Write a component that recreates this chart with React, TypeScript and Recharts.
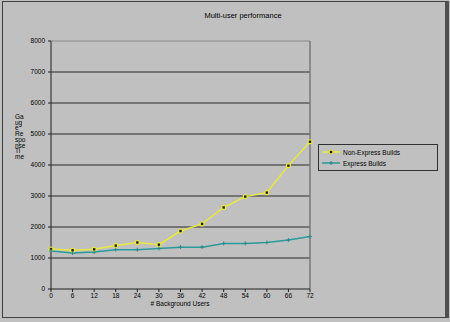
import React from 'react';
import { LineChart, Line, XAxis, YAxis, CartesianGrid, ReferenceLine } from 'recharts';

const users = [0, 6, 12, 18, 24, 30, 36, 42, 48, 54, 60, 66, 72];
const nonExpress = [1290, 1250, 1280, 1400, 1500, 1430, 1870, 2100, 2630, 2980, 3110, 3980, 4750];
const express = [1225, 1160, 1190, 1270, 1270, 1310, 1350, 1350, 1470, 1470, 1500, 1580, 1690];
const yTicks = [0, 1000, 2000, 3000, 4000, 5000, 6000, 7000, 8000];
const gridValues = [1000, 2000, 3000, 4000, 5000, 6000, 7000];
const yLabelLines = ['Ga', 'ug', 'e', 'Re', 'spo', 'nse', 'Ti', 'me'];

const data = users.map((u, i) => ({ users: u, nonExpress: nonExpress[i], express: express[i] }));

const FONT = '"Liberation Sans", Arial, sans-serif';

const YellowDot = (props: any) => {
  const { cx, cy } = props;
  if (cx == null || cy == null) return null;
  return (
    <g>
      <circle cx={cx} cy={cy} r={2.6} fill="#e8e840" />
      <rect x={cx - 1.2} y={cy - 1.2} width={2.4} height={2.4} fill="#202020" />
    </g>
  );
};

const TealDot = (props: any) => {
  const { cx, cy } = props;
  if (cx == null || cy == null) return null;
  return (
    <g stroke="#2a8a8a" strokeWidth={1}>
      <line x1={cx - 2} y1={cy} x2={cx + 2} y2={cy} />
      <line x1={cx} y1={cy - 2} x2={cx} y2={cy + 2} />
    </g>
  );
};

export default function App() {
  return (
    <div
      style={{
        position: 'absolute',
        left: 0,
        top: 0,
        width: 450,
        height: 322,
        background: '#c0c0c0',
        fontFamily: FONT,
        overflow: 'hidden',
      }}
    >
      <div
        style={{
          position: 'absolute',
          left: 2,
          top: 1,
          width: 442,
          height: 315,
          border: '1px solid #404040',
          borderRight: '4px solid #505050',
          boxSizing: 'content-box',
        }}
      />
      <LineChart
        width={450}
        height={322}
        data={data}
        margin={{ top: 41, right: 140, left: 0, bottom: 15 }}
        style={{ position: 'absolute', left: 0, top: 0 }}
      >
        <CartesianGrid
          horizontal
          vertical={false}
          horizontalValues={gridValues}
          stroke="#2a2a2a"
          strokeWidth={1.2}
        />
        <ReferenceLine y={8000} stroke="#8a8a8a" strokeWidth={1} />
        <ReferenceLine x={72} stroke="#7a7a7a" strokeWidth={1.5} />
        <XAxis
          dataKey="users"
          type="number"
          domain={[0, 72]}
          ticks={users}
          height={18}
          tickSize={3}
          interval={0}
          stroke="#202020"
          tick={{ fontSize: 6.5, fill: '#000', fontFamily: FONT }}
          tickMargin={1}
        />
        <YAxis
          type="number"
          domain={[0, 8000]}
          ticks={yTicks}
          width={51}
          tickSize={3}
          interval={0}
          stroke="#202020"
          tick={{ fontSize: 6.5, fill: '#000', fontFamily: FONT }}
          tickMargin={3}
        />
        <Line
          dataKey="nonExpress"
          stroke="#e8e840"
          strokeWidth={1.5}
          dot={<YellowDot />}
          isAnimationActive={false}
        />
        <Line
          dataKey="express"
          stroke="#2a9a9a"
          strokeWidth={1.5}
          dot={<TealDot />}
          isAnimationActive={false}
        />
      </LineChart>
      <div
        style={{
          position: 'absolute',
          left: 0,
          width: 486,
          top: 12,
          textAlign: 'center',
          fontSize: 7.5,
          lineHeight: '8px',
          color: '#000',
        }}
      >
        Multi-user performance
      </div>
      <div
        style={{
          position: 'absolute',
          left: 0,
          width: 360,
          top: 300,
          textAlign: 'center',
          fontSize: 6.5,
          lineHeight: '7px',
          color: '#000',
        }}
      >
        # Background Users
      </div>
      <div style={{ position: 'absolute', left: 15, top: 114, fontSize: 6.5, lineHeight: '5.7px', color: '#000' }}>
        {yLabelLines.map((l, i) => (
          <div key={i}>{l}</div>
        ))}
      </div>
      <div
        style={{
          position: 'absolute',
          left: 318,
          top: 144,
          width: 118,
          height: 25,
          border: '1px solid #303030',
          fontSize: 6.5,
          color: '#000',
        }}
      >
        <div style={{ position: 'absolute', left: 2, top: 3, display: 'flex', alignItems: 'center' }}>
          <svg width={20} height={8}>
            <line x1={1} y1={4} x2={19} y2={4} stroke="#e8e840" strokeWidth={1.5} />
            <circle cx={10} cy={4} r={2.4} fill="#e8e840" />
            <rect x={8.8} y={2.8} width={2.4} height={2.4} fill="#202020" />
          </svg>
          <span style={{ marginLeft: 2 }}>Non-Express Builds</span>
        </div>
        <div style={{ position: 'absolute', left: 2, top: 14, display: 'flex', alignItems: 'center' }}>
          <svg width={20} height={8}>
            <line x1={1} y1={4} x2={19} y2={4} stroke="#2a9a9a" strokeWidth={1.5} />
            <line x1={8} y1={4} x2={12} y2={4} stroke="#2a8a8a" strokeWidth={1} />
            <line x1={10} y1={2} x2={10} y2={6} stroke="#2a8a8a" strokeWidth={1} />
          </svg>
          <span style={{ marginLeft: 2 }}>Express Builds</span>
        </div>
      </div>
    </div>
  );
}
